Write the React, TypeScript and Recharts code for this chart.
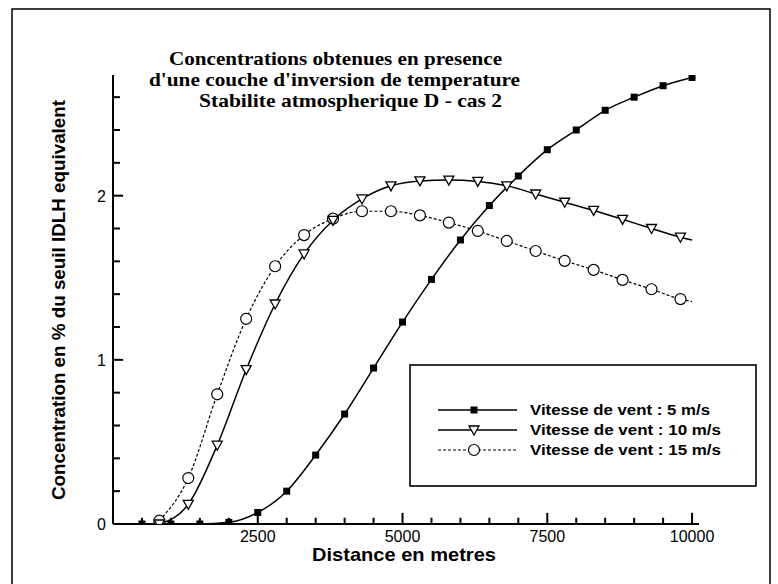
import React from 'react'
import { LineChart, Line, XAxis, YAxis, ReferenceLine } from 'recharts'

// distances (m) and concentrations (% IDLH)
const DIST_5 = [500, 1000, 1500, 2000, 2500, 3000, 3500, 4000, 4500, 5000, 5500, 6000, 6500, 7000, 7500, 8000, 8500, 9000, 9500, 10000]
const CONC_5 = [0, 0, 0, 0.01, 0.07, 0.2, 0.42, 0.67, 0.95, 1.23, 1.49, 1.73, 1.94, 2.12, 2.28, 2.4, 2.52, 2.6, 2.67, 2.72]

const DIST_10_15 = [800, 1300, 1800, 2300, 2800, 3300, 3800, 4300, 4800, 5300, 5800, 6300, 6800, 7300, 7800, 8300, 8800, 9300, 9800, 10000]
const CONC_10 = [0, 0.12, 0.48, 0.94, 1.34, 1.645, 1.85, 1.98, 2.06, 2.09, 2.095, 2.087, 2.06, 2.01, 1.96, 1.91, 1.856, 1.8, 1.747, 1.73]
const CONC_15 = [0.02, 0.28, 0.79, 1.25, 1.57, 1.76, 1.86, 1.905, 1.905, 1.88, 1.836, 1.785, 1.724, 1.663, 1.603, 1.548, 1.487, 1.43, 1.37, 1.355]

const X_TICKS = [500, 1000, 1500, 2000, 2500, 3000, 3500, 4000, 4500, 5000, 5500, 6000, 6500, 7000, 7500, 8000, 8500, 9000, 9500, 10000]
const X_LABELS = [2500, 5000, 7500, 10000]
const Y_TICKS = [0, 0.2, 0.4, 0.6, 0.8, 1, 1.2, 1.4, 1.6, 1.8, 2, 2.2, 2.4, 2.6]
const Y_LABELS = [0, 1, 2]

const SERIES = [
  { name: 'Vitesse de vent : 5 m/s', marker: 'square', len: 180 },
  { name: 'Vitesse de vent : 10 m/s', marker: 'triangle', len: 191 },
  { name: 'Vitesse de vent : 15 m/s', marker: 'circle', len: 191 },
]

const TITLE = [
  'Concentrations obtenues en presence',
  "d'une couche d'inversion de temperature",
  'Stabilite atmospherique D - cas 2',
]

const SANS = '"Liberation Sans", Arial, sans-serif'
const SERIF = '"Liberation Serif", "Times New Roman", serif'

const X_MAX = 10120
const Y_MAX = 2.735

const toPoints = (xs: number[], ys: number[]) => xs.map((x, i) => ({ x, y: ys[i] }))

const data5 = toPoints(DIST_5, CONC_5)
const data10 = toPoints(DIST_10_15, CONC_10)
const data15 = toPoints(DIST_10_15, CONC_15)

const Marker = ({ type, cx, cy }: { type: string; cx: number; cy: number }) => {
  if (type === 'square') {
    return <rect x={cx - 3.5} y={cy - 3.5} width={7} height={7} fill="#000" />
  }
  if (type === 'triangle') {
    return (
      <polygon
        points={`${cx - 5},${cy - 4} ${cx + 5},${cy - 4} ${cx},${cy + 5}`}
        fill="#fff"
        stroke="#000"
        strokeWidth={1.3}
      />
    )
  }
  return <circle cx={cx} cy={cy} r={5.5} fill="#fff" stroke="#000" strokeWidth={1.2} />
}

// the 10000 m end point of the 10 and 15 m/s curves has no symbol
const makeDot = (type: string, skipLast: boolean, count: number) => (props: any) => {
  const { cx, cy, index } = props
  if (skipLast && index === count - 1) return <g key={`d-${index}`} />
  return (
    <g key={`d-${index}`}>
      <Marker type={type} cx={cx} cy={cy} />
    </g>
  )
}

// labels only; the tick marks themselves are reference segments (inward)
const XTick = (props: any) => {
  const { x, y, payload } = props
  if (!X_LABELS.includes(payload.value)) return <g />
  return (
    <text x={x} y={y + 18} textAnchor="middle" fontFamily={SANS} fontSize={16} fill="#000">
      {payload.value}
    </text>
  )
}

const YTick = (props: any) => {
  const { x, y, payload } = props
  if (!Y_LABELS.includes(payload.value)) return <g />
  return (
    <text x={x - 7} y={y + 6} textAnchor="end" fontFamily={SANS} fontSize={16} fill="#000">
      {payload.value}
    </text>
  )
}

export default function App() {
  return (
    <div style={{ position: 'absolute', left: 0, top: 0, width: 778, height: 584, background: '#fff' }}>
      <LineChart
        width={778}
        height={584}
        margin={{ top: 75, right: 79, bottom: 30, left: 83 }}
      >
        <XAxis
          type="number"
          dataKey="x"
          domain={[0, X_MAX]}
          ticks={X_TICKS}
          interval={0}
          tick={<XTick />}
          tickLine={false}
          tickSize={0}
          tickMargin={0}
          height={30}
          axisLine={{ stroke: '#000', strokeWidth: 2 }}
          allowDataOverflow
        />
        <YAxis
          type="number"
          domain={[0, Y_MAX]}
          ticks={Y_TICKS}
          interval={0}
          tick={<YTick />}
          tickLine={false}
          tickSize={0}
          tickMargin={0}
          width={30}
          axisLine={{ stroke: '#000', strokeWidth: 2 }}
          allowDataOverflow
        />
        {X_TICKS.map((t) => (
          <ReferenceLine
            key={`xt-${t}`}
            segment={[{ x: t, y: 0 }, { x: t, y: X_LABELS.includes(t) ? 0.068 : 0.038 }]}
            stroke="#000"
            strokeWidth={2}
            ifOverflow="visible"
          />
        ))}
        {Y_TICKS.map((t) => (
          <ReferenceLine
            key={`yt-${t}`}
            segment={[{ x: 0, y: t }, { x: Y_LABELS.includes(t) ? 175 : 120, y: t }]}
            stroke="#000"
            strokeWidth={2}
            ifOverflow="visible"
          />
        ))}
        <Line
          data={data15}
          dataKey="y"
          type="monotone"
          stroke="#000"
          strokeWidth={1.2}
          strokeDasharray="3 2"
          dot={makeDot('circle', true, data15.length)}
          activeDot={false}
          isAnimationActive={false}
        />
        <Line
          data={data10}
          dataKey="y"
          type="monotone"
          stroke="#000"
          strokeWidth={1.5}
          dot={makeDot('triangle', true, data10.length)}
          activeDot={false}
          isAnimationActive={false}
        />
        <Line
          data={data5}
          dataKey="y"
          type="monotone"
          stroke="#000"
          strokeWidth={1.5}
          dot={makeDot('square', false, data5.length)}
          activeDot={false}
          isAnimationActive={false}
        />
      </LineChart>

      <svg
        width={778}
        height={584}
        style={{ position: 'absolute', left: 0, top: 0, pointerEvents: 'none' }}
      >
        {/* frame */}
        <rect x={12} y={9} width={758} height={590} fill="none" stroke="#000" strokeWidth={1.5} />

        {/* title */}
        <g fontFamily={SERIF} fontWeight="bold" fontSize={19} fill="#000">
          <text x={169} y={65} textLength={333} lengthAdjust="spacingAndGlyphs">{TITLE[0]}</text>
          <text x={149} y={86} textLength={371} lengthAdjust="spacingAndGlyphs">{TITLE[1]}</text>
          <text x={199} y={107} textLength={303} lengthAdjust="spacingAndGlyphs">{TITLE[2]}</text>
        </g>

        {/* axis titles */}
        <text
          x={0}
          y={0}
          transform="translate(65 300) rotate(-90)"
          textAnchor="middle"
          textLength={400}
          lengthAdjust="spacingAndGlyphs"
          fontFamily={SANS}
          fontWeight="bold"
          fontSize={18}
          fill="#000"
        >
          Concentration en % du seuil IDLH equivalent
        </text>
        <text x={404} y={561} textAnchor="middle" fontFamily={SANS} fontWeight="bold" fontSize={19} textLength={184} lengthAdjust="spacingAndGlyphs" fill="#000">
          Distance en metres
        </text>

        {/* legend */}
        <rect x={410} y={365} width={346} height={121} fill="#fff" stroke="#000" strokeWidth={1.6} />
        {SERIES.map((s, i) => {
          const cy = 410 + i * 20
          return (
            <g key={s.name}>
              <line
                x1={438}
                x2={517}
                y1={cy}
                y2={cy}
                stroke="#000"
                strokeWidth={s.marker === 'circle' ? 1.2 : 1.5}
                strokeDasharray={s.marker === 'circle' ? '3 2' : undefined}
              />
              <Marker type={s.marker} cx={474} cy={cy} />
              <text
                x={530}
                y={cy + 5}
                textLength={s.len}
                lengthAdjust="spacingAndGlyphs"
                fontFamily={SANS}
                fontWeight="bold"
                fontSize={14}
                fill="#000"
              >
                {s.name}
              </text>
            </g>
          )
        })}
      </svg>
    </div>
  )
}
